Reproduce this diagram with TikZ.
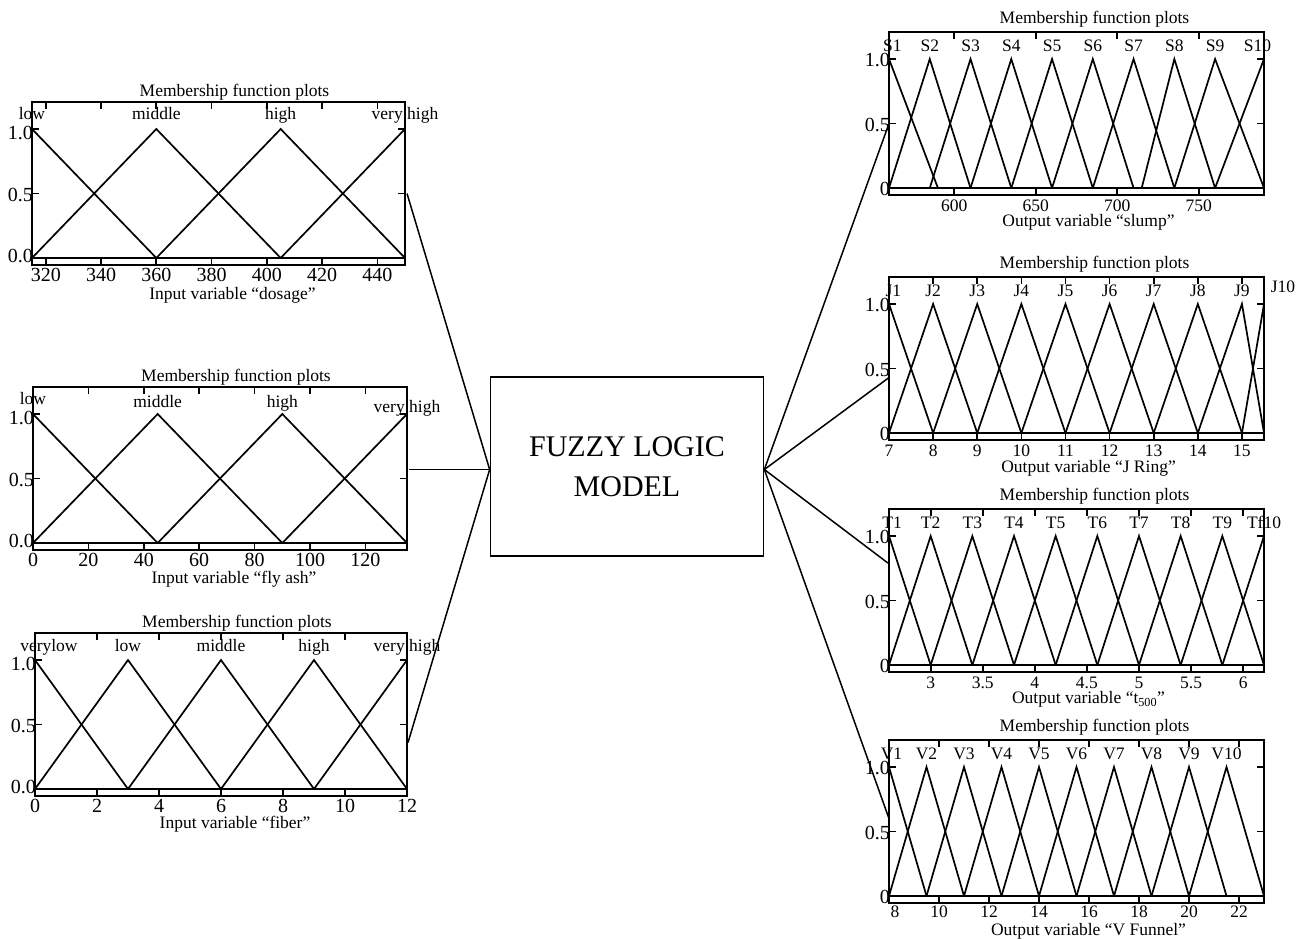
\documentclass[tikz,border=0pt]{standalone}
\usepackage{fontspec}
\setmainfont{Liberation Serif}
\usetikzlibrary{positioning,calc}
\newcommand\lbfont{\fontsize{17.5}{21}\selectfont}
\newcommand\tkfont{\fontsize{20}{24}\selectfont}

\begin{document}
\begin{tikzpicture}[
  x=1pt, y=1pt,
  frm/.style={line width=1.9pt},
  mf/.style={line width=1.7pt},
  tck/.style={line width=1.7pt},
  lbl/.style={font=\lbfont, inner sep=0pt},
  mflab/.style={lbl, anchor=base},
  xlab/.style={lbl, font=\tkfont, anchor=base, yshift=-17pt},
  xlabR/.style={lbl, anchor=base, yshift=-17pt},
  ylab/.style={lbl, font=\tkfont, anchor=east, xshift=1pt, yshift=-1pt},
  ttl/.style={lbl, anchor=base},
  conn/.style={line width=1.5pt},
  model/.style={draw, line width=1.7pt, minimum width=273pt, minimum height=179pt, align=center, font=\fontsize{30}{40}\selectfont}
]
\useasboundingbox (0,0) rectangle (1309,-938);

\node[model] (flm) at (627,-466.5) {FUZZY LOGIC\\MODEL};
\coordinate (hubL) at ([yshift=-3pt]flm.west);
\coordinate (hubR) at ([yshift=-3pt]flm.east);
\coordinate (fly-out) at (409,-469.5);

% input: dosage
\begin{scope}[x=2.763pt, y=129pt, shift={(32pt,-258pt)}, shift={(-315,0)}]
  \draw[frm] (315,-0.054) rectangle (450,1.209);
  \draw[mf] (315,0) -- (450,0);
  \foreach \t in {320,340,...,440} {
    \draw[tck] (\t,-0.054) -- ++(0,7pt);
    \draw[tck] (\t,1.209) -- ++(0,-7pt);
    \node[xlab] (dos-x\t) at (\t,-0.054) {\t};
  }
  \foreach \v/\l/\s [count=\k] in {0/0.0/3, 0.5/0.5/0, 1/1.0/-3} {
    \draw[tck] (315,\v) -- ++(7pt,0);
    \draw[tck] (450,\v) -- ++(-7pt,0);
    \node[ylab, yshift=\s pt] (dos-y\k) at (315,\v) {\l};
  }
  \foreach \a/\b/\c in {315/315/360, 315/360/405, 360/405/450, 405/450/450}
    \draw[mf] (\a,0) -- (\b,1) -- (\c,0);
  \foreach \p/\n [count=\k] in {315/low, 360/middle, 405/high, 450/very high}
    \node[mflab, yshift=10pt] (dos-m\k) at (\p,1) {\n};
  \node[ttl, xshift=16pt, yshift=6pt] (dos-ttl) at (382.5,1.209) {Membership function plots};
  \node[ttl, xshift=14pt, yshift=-35pt] (dos-var) at (382.5,-0.054) {Input variable “dosage”};
  \coordinate (dos-out) at ([xshift=2pt]450,0.5);
\end{scope}

% input: fly ash
\begin{scope}[x=2.7704pt, y=129pt, shift={(33pt,-543pt)}]
  \draw[frm] (0,-0.054) rectangle (135,1.209);
  \draw[mf] (0,0) -- (135,0);
  \foreach \t in {0,20,...,120} {
    \draw[tck] (\t,-0.054) -- ++(0,7pt);
    \draw[tck] (\t,1.209) -- ++(0,-7pt);
    \node[xlab] (fly-x\t) at (\t,-0.054) {\t};
  }
  \foreach \v/\l/\s [count=\k] in {0/0.0/3, 0.5/0.5/0, 1/1.0/-3} {
    \draw[tck] (0,\v) -- ++(7pt,0);
    \draw[tck] (135,\v) -- ++(-7pt,0);
    \node[ylab, yshift=\s pt] (fly-y\k) at (0,\v) {\l};
  }
  \foreach \a/\b/\c in {0/0/45, 0/45/90, 45/90/135, 90/135/135}
    \draw[mf] (\a,0) -- (\b,1) -- (\c,0);
  \foreach \p/\n/\s [count=\k] in {0/low/10, 45/middle/7, 90/high/7, 135/very high/2}
    \node[mflab, yshift=\s pt] (fly-m\k) at (\p,1) {\n};
  \node[ttl, xshift=16pt, yshift=6pt] (fly-ttl) at (67.5,1.209) {Membership function plots};
  \node[ttl, xshift=14pt, yshift=-34pt] (fly-var) at (67.5,-0.054) {Input variable “fly ash”};
\end{scope}

% input: fiber
\begin{scope}[x=31pt, y=129pt, shift={(35pt,-789pt)}]
  \draw[frm] (0,-0.054) rectangle (12,1.209);
  \draw[mf] (0,0) -- (12,0);
  \foreach \t in {0,2,...,12} {
    \draw[tck] (\t,-0.054) -- ++(0,7pt);
    \draw[tck] (\t,1.209) -- ++(0,-7pt);
    \node[xlab] (fib-x\t) at (\t,-0.054) {\t};
  }
  \foreach \v/\l/\s [count=\k] in {0/0.0/3, 0.5/0.5/0, 1/1.0/-3} {
    \draw[tck] (0,\v) -- ++(7pt,0);
    \draw[tck] (12,\v) -- ++(-7pt,0);
    \node[ylab, yshift=\s pt] (fib-y\k) at (0,\v) {\l};
  }
  \foreach \a/\b/\c in {0/0/3, 0/3/6, 3/6/9, 6/9/12, 9/12/12}
    \draw[mf] (\a,0) -- (\b,1) -- (\c,0);
  \foreach \p/\n [count=\k] in {0.45/verylow, 3/low, 6/middle, 9/high, 12/very high}
    \node[mflab, yshift=9pt] (fib-m\k) at (\p,1) {\n};
  \node[ttl, xshift=16pt, yshift=6pt] (fib-ttl) at (6,1.209) {Membership function plots};
  \node[ttl, xshift=14pt, yshift=-33pt] (fib-var) at (6,-0.054) {Input variable “fiber”};
  \coordinate (fib-out) at ([xshift=1pt]12,0.36);
\end{scope}

% output: slump
\begin{scope}[x=1.6304pt, y=129pt, shift={(889pt,-188pt)}, shift={(-560,0)}]
  \draw[frm] (560,-0.054) rectangle (790,1.209);
  \draw[mf] (560,0) -- (790,0);
  \foreach \t in {600,650,...,750} {
    \draw[tck] (\t,-0.054) -- ++(0,7pt);
    \draw[tck] (\t,1.209) -- ++(0,-7pt);
    \node[xlabR] (slu-x\t) at (\t,-0.054) {\t};
  }
  \foreach \v/\l [count=\k] in {0/0, 0.5/0.5, 1/1.0} {
    \draw[tck] (560,\v) -- ++(7pt,0);
    \draw[tck] (790,\v) -- ++(-7pt,0);
    \node[ylab] (slu-y\k) at (560,\v) {\l};
  }
  \foreach \a/\b/\c in {560/560/590, 560/585/610, 585/610/635, 610/635/660, 635/660/685,
                        660/685/710, 685/710/735, 715/735/760, 735/760/790, 760/790/790}
    \draw[mf] (\a,0) -- (\b,1) -- (\c,0);
  \foreach \p [count=\k] in {562,585,610,635,660,685,710,735,760,786}
    \node[mflab, yshift=8pt] (slu-m\k) at (\p,1) {S\k};
  \node[ttl, xshift=18pt, yshift=9pt] (slu-ttl) at (675,1.209) {Membership function plots};
  \node[ttl, xshift=12pt, yshift=-32pt] (slu-var) at (675,-0.054) {Output variable “slump”};
  \coordinate (slu-out) at (560,0.5);
\end{scope}

% output: J Ring
\begin{scope}[x=44.118pt, y=129pt, shift={(889pt,-433pt)}, shift={(-7,0)}]
  \draw[frm] (7,-0.054) rectangle (15.5,1.209);
  \draw[mf] (7,0) -- (15.5,0);
  \foreach \t in {7,8,...,15} {
    \draw[tck] (\t,-0.054) -- ++(0,7pt);
    \draw[tck] (\t,1.209) -- ++(0,-7pt);
    \node[xlabR] (jr-x\t) at (\t,-0.054) {\t};
  }
  \foreach \v/\l [count=\k] in {0/0, 0.5/0.5, 1/1.0} {
    \draw[tck] (7,\v) -- ++(7pt,0);
    \draw[tck] (15.5,\v) -- ++(-7pt,0);
    \node[ylab] (jr-y\k) at (7,\v) {\l};
  }
  \foreach \a/\b/\c in {7/7/8, 7/8/9, 8/9/10, 9/10/11, 10/11/12,
                        11/12/13, 12/13/14, 13/14/15, 14/15/15.5, 15/15.5/15.5}
    \draw[mf] (\a,0) -- (\b,1) -- (\c,0);
  \foreach \p [count=\k] in {7.1,8,9,10,11,12,13,14,15}
    \node[mflab, yshift=8pt] (jr-m\k) at (\p,1) {J\k};
  \node[mflab, xshift=19pt, yshift=12pt] (jr-m10) at (15.5,1) {J10};
  \node[ttl, xshift=18pt, yshift=9pt] (jr-ttl) at (11.25,1.209) {Membership function plots};
  \node[ttl, xshift=12pt, yshift=-33pt] (jr-var) at (11.25,-0.054) {Output variable “J Ring”};
  \coordinate (jr-out) at (7,0.43);
\end{scope}

% output: t500
\begin{scope}[x=104.167pt, y=129pt, shift={(889pt,-665pt)}, shift={(-2.6,0)}]
  \draw[frm] (2.6,-0.054) rectangle (6.2,1.209);
  \draw[mf] (2.6,0) -- (6.2,0);
  \foreach \t [count=\k] in {3,3.5,4,4.5,5,5.5,6} {
    \draw[tck] (\t,-0.054) -- ++(0,7pt);
    \draw[tck] (\t,1.209) -- ++(0,-7pt);
    \node[xlabR] (t5-x\k) at (\t,-0.054) {\t};
  }
  \foreach \v/\l [count=\k] in {0/0, 0.5/0.5, 1/1.0} {
    \draw[tck] (2.6,\v) -- ++(7pt,0);
    \draw[tck] (6.2,\v) -- ++(-7pt,0);
    \node[ylab] (t5-y\k) at (2.6,\v) {\l};
  }
  \foreach \a/\b/\c in {2.6/2.6/3.0, 2.6/3.0/3.4, 3.0/3.4/3.8, 3.4/3.8/4.2, 3.8/4.2/4.6,
                        4.2/4.6/5.0, 4.6/5.0/5.4, 5.0/5.4/5.8, 5.4/5.8/6.2, 5.8/6.2/6.2}
    \draw[mf] (\a,0) -- (\b,1) -- (\c,0);
  \foreach \p [count=\k] in {2.63,3.0,3.4,3.8,4.2,4.6,5.0,5.4,5.8}
    \node[mflab, yshift=8pt] (t5-m\k) at (\p,1) {T\k};
  \node[mflab, yshift=8pt] (t5-m10) at (6.2,1) {Tf10};
  \node[ttl, xshift=18pt, yshift=9pt] (t5-ttl) at (4.4,1.209) {Membership function plots};
  \node[ttl, xshift=12pt, yshift=-32pt] (t5-var) at (4.4,-0.054) {Output variable “t\textsubscript{500}”};
  \coordinate (t5-out) at ([xshift=-1pt]2.6,0.79);
\end{scope}

% output: V Funnel
\begin{scope}[x=25pt, y=129pt, shift={(889pt,-896pt)}, shift={(-8,0)}]
  \draw[frm] (8,-0.054) rectangle (23,1.209);
  \draw[mf] (8,0) -- (23,0);
  \foreach \t in {8,10,...,22} {
    \draw[tck] (\t,-0.054) -- ++(0,7pt);
    \draw[tck] (\t,1.209) -- ++(0,-7pt);
  }
  \foreach \t/\s in {8/6,10/0,12/0,14/0,16/0,18/0,20/0,22/0}
    \node[xlabR, xshift=\s pt, yshift=2pt] (vf-x\t) at (\t,-0.054) {\t};
  \foreach \v/\l [count=\k] in {0/0, 0.5/0.5, 1/1.0} {
    \draw[tck] (8,\v) -- ++(7pt,0);
    \draw[tck] (23,\v) -- ++(-7pt,0);
    \node[ylab] (vf-y\k) at (8,\v) {\l};
  }
  \foreach \a/\b/\c in {8/8/9.5, 8/9.5/11, 9.5/11/12.5, 11/12.5/14, 12.5/14/15.5,
                        14/15.5/17, 15.5/17/18.5, 17/18.5/20, 18.5/20/21.5, 20/21.5/23}
    \draw[mf] (\a,0) -- (\b,1) -- (\c,0);
  \foreach \p [count=\k] in {8.1,9.5,11,12.5,14,15.5,17,18.5,20,21.5}
    \node[mflab, yshift=8pt] (vf-m\k) at (\p,1) {V\k};
  \node[ttl, xshift=18pt, yshift=9pt] (vf-ttl) at (15.5,1.209) {Membership function plots};
  \node[ttl, xshift=12pt, yshift=-33pt] (vf-var) at (15.5,-0.054) {Output variable “V Funnel”};
  \coordinate (vf-out) at (8,0.6);
\end{scope}

\draw[conn] (dos-out) -- (hubL);
\draw[conn] (fly-out) -- (hubL);
\draw[conn] (fib-out) -- (hubL);
\draw[conn] (hubR) -- (slu-out);
\draw[conn] (hubR) -- (jr-out);
\draw[conn] (hubR) -- (t5-out);
\draw[conn] (hubR) -- (vf-out);
\end{tikzpicture}
\end{document}
